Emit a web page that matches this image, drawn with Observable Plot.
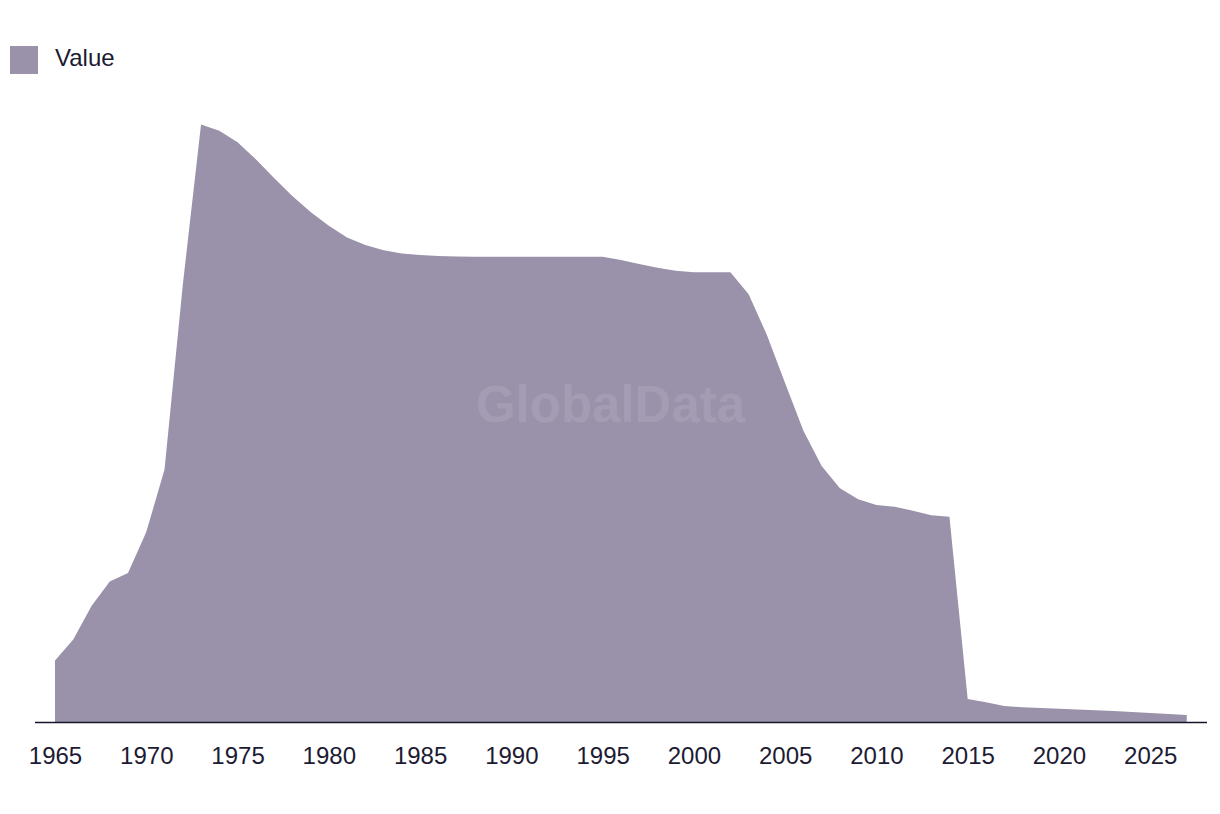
<!DOCTYPE html>
<html>
<head>
<meta charset="utf-8">
<script src="https://cdn.jsdelivr.net/npm/d3@7"></script>
<script src="https://cdn.jsdelivr.net/npm/@observablehq/plot@0.6"></script>
<style>
  html, body { margin: 0; padding: 0; background: #fff; }
  body { width: 1220px; height: 814px; overflow: hidden; font-family: "Liberation Sans", Arial, sans-serif; }
  #legend { height: 100px; position: relative; }
  #legend .sw { position: absolute; left: 10px; top: 46px; width: 28px; height: 28px; background: #9a91aa; }
  #legend .lb { position: absolute; left: 55px; top: 44px; font-size: 24px; line-height: 28px; color: #1c1b33; }
</style>
</head>
<body>
<div id="legend"><div class="sw"></div><div class="lb">Value</div></div>
<div id="chart"></div>
<script>
const years = d3.range(1965, 2028);
const values = [
  61.5, 82.5, 116, 140.6, 149, 190, 252.4, 437, 597.5, 591.2,
  579.7, 562.7, 544.1, 526, 510, 496.3, 484.5, 477, 471.8, 468.6,
  467, 466, 465.5, 465.3, 465.3, 465.3, 465.3, 465.3, 465.3, 465.3,
  465.3, 462, 458, 454.3, 451.3, 449.7, 449.7, 449.7, 427.7, 387,
  338.7, 291.3, 256, 233.7, 222.7, 217, 215.3, 211.3, 206.7, 205.3,
  23, 19.7, 16, 14.7, 14, 13.3, 12.5, 11.7, 11, 10,
  9, 8, 7
];
const tickYears = [1965, 1970, 1975, 1980, 1985, 1990, 1995, 2000, 2005, 2010, 2015, 2020, 2025];
const seriesName = "Value";
const watermark = "GlobalData";

const data = years.map((y, i) => ({year: y, value: values[i], series: seriesName}));

const chart = Plot.plot({
  width: 1220,
  height: 714,
  marginTop: 22,
  marginBottom: 92,
  marginLeft: 35,
  marginRight: 13,
  style: {fontFamily: "'Liberation Sans', Arial, sans-serif", background: "#fff"},
  x: {domain: [1963.904, 2028.11], ticks: tickYears, tickFormat: d => String(d), tickSize: 0, tickPadding: 24, label: null},
  y: {domain: [0, 600], axis: null},
  marks: [
    Plot.areaY(data, {x: "year", y: "value", fill: "#9a91aa", curve: "linear"}),
    Plot.text([watermark], {frameAnchor: "middle", dx: -11, dy: -17, text: d => d, fontSize: 51, fontWeight: "bold", fill: "#ffffff", fillOpacity: 0.1}),
    Plot.ruleY([0], {stroke: "#15142b", strokeWidth: 1.6}),
    Plot.axisX({ticks: tickYears, tickFormat: d => String(d), tickSize: 0, tickPadding: 24, fontSize: 24, fill: "#1c1b33", label: null})
  ]
});
document.getElementById("chart").appendChild(chart);
</script>
</body>
</html>
